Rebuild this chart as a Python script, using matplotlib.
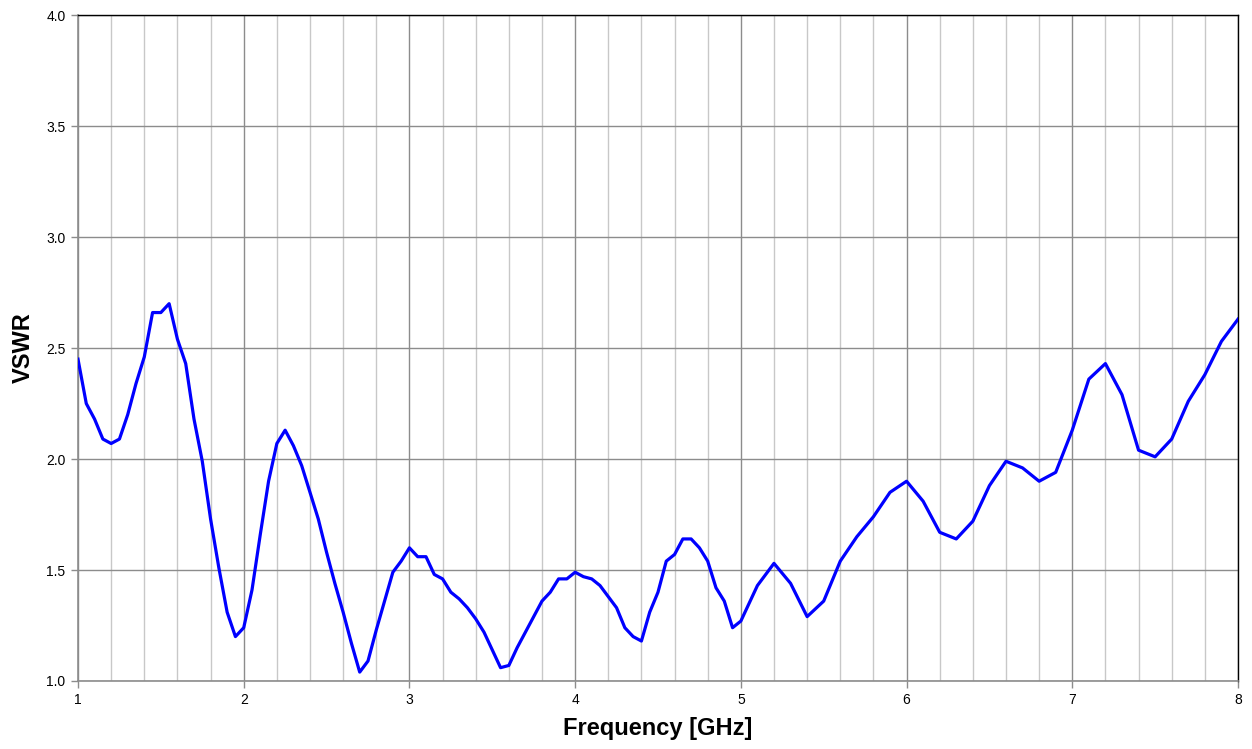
import numpy as np
import matplotlib
matplotlib.use('Agg')
import matplotlib.pyplot as plt
from matplotlib.ticker import MultipleLocator, FormatStrFormatter

matplotlib.rcParams['font.family'] = ['Liberation Sans', 'DejaVu Sans']

# frequency [GHz]: 0.05 steps up to 5.0, then 0.1 steps
freq_a = [1.0, 1.05, 1.1, 1.15, 1.2, 1.25, 1.3, 1.35, 1.4, 1.45, 1.5, 1.55, 1.6, 1.65, 1.7, 1.75,
          1.8, 1.85, 1.9, 1.95, 2.0, 2.05, 2.1, 2.15, 2.2, 2.25, 2.3, 2.35, 2.4, 2.45, 2.5, 2.55,
          2.6, 2.65, 2.7, 2.75, 2.8, 2.85, 2.9, 2.95, 3.0, 3.05, 3.1, 3.15, 3.2, 3.25, 3.3, 3.35,
          3.4, 3.45, 3.5, 3.55, 3.6, 3.65, 3.7, 3.75, 3.8, 3.85, 3.9, 3.95, 4.0, 4.05, 4.1, 4.15,
          4.2, 4.25, 4.3, 4.35, 4.4, 4.45, 4.5, 4.55, 4.6, 4.65, 4.7, 4.75, 4.8, 4.85, 4.9, 4.95, 5.0]
vswr_a = [2.45, 2.25, 2.18, 2.09, 2.07, 2.09, 2.20, 2.34, 2.46, 2.66, 2.66, 2.70, 2.54, 2.43, 2.18, 1.99,
          1.73, 1.51, 1.31, 1.20, 1.24, 1.41, 1.66, 1.90, 2.07, 2.13, 2.06, 1.97, 1.85, 1.73, 1.58, 1.44,
          1.31, 1.17, 1.04, 1.09, 1.23, 1.36, 1.49, 1.54, 1.60, 1.56, 1.56, 1.48, 1.46, 1.40, 1.37, 1.33,
          1.28, 1.22, 1.14, 1.06, 1.07, 1.15, 1.22, 1.29, 1.36, 1.40, 1.46, 1.46, 1.49, 1.47, 1.46, 1.43,
          1.38, 1.33, 1.24, 1.20, 1.18, 1.31, 1.40, 1.54, 1.57, 1.64, 1.64, 1.60, 1.54, 1.42, 1.36, 1.24, 1.27]
freq_b = [5.1, 5.2, 5.3, 5.4, 5.5, 5.6, 5.7, 5.8, 5.9, 6.0, 6.1, 6.2, 6.3, 6.4, 6.5, 6.6, 6.7, 6.8, 6.9,
          7.0, 7.1, 7.2, 7.3, 7.4, 7.5, 7.6, 7.7, 7.8, 7.9, 8.0]
vswr_b = [1.43, 1.53, 1.44, 1.29, 1.36, 1.54, 1.65, 1.74, 1.85, 1.90, 1.81, 1.67, 1.64, 1.72, 1.88, 1.99,
          1.96, 1.90, 1.94, 2.13, 2.36, 2.43, 2.29, 2.04, 2.01, 2.09, 2.26, 2.38, 2.53, 2.63]

freq = freq_a + freq_b
vswr = vswr_a + vswr_b

fig = plt.figure(figsize=(12.52, 7.49), dpi=100)
ax = fig.add_axes([0.0623, 0.0908, 0.9265, 0.889])

ax.plot(freq, vswr, color='#0000ff', linewidth=2.3, zorder=3)

ax.set_xlim(1, 8)
ax.set_ylim(1.0, 4.0)
ax.xaxis.set_major_locator(MultipleLocator(1))
ax.xaxis.set_minor_locator(MultipleLocator(0.2))
ax.yaxis.set_major_locator(MultipleLocator(0.5))
ax.yaxis.set_major_formatter(FormatStrFormatter('%.1f'))

ax.grid(which='minor', axis='x', color='#c8c8c8', linewidth=1.0)
ax.grid(which='major', axis='x', color='#8c8c8c', linewidth=1.0)
ax.grid(which='major', axis='y', color='#8c8c8c', linewidth=1.0)
ax.set_axisbelow(True)

ax.tick_params(axis='both', which='major', direction='out', length=5, width=1, color='#8c8c8c',
               labelsize=10, pad=4)
ax.tick_params(axis='x', which='minor', length=0)

for s in ['left', 'bottom']:
    ax.spines[s].set_color('#8c8c8c')
    ax.spines[s].set_linewidth(1.2)
for s in ['top', 'right']:
    ax.spines[s].set_color('black')
    ax.spines[s].set_linewidth(1.0)

ax.set_xlabel('Frequency [GHz]', fontsize=17, fontweight='bold', labelpad=7)
ax.set_ylabel('VSWR', fontsize=17, fontweight='bold', labelpad=8)

fig.savefig('out.png', dpi=100)
